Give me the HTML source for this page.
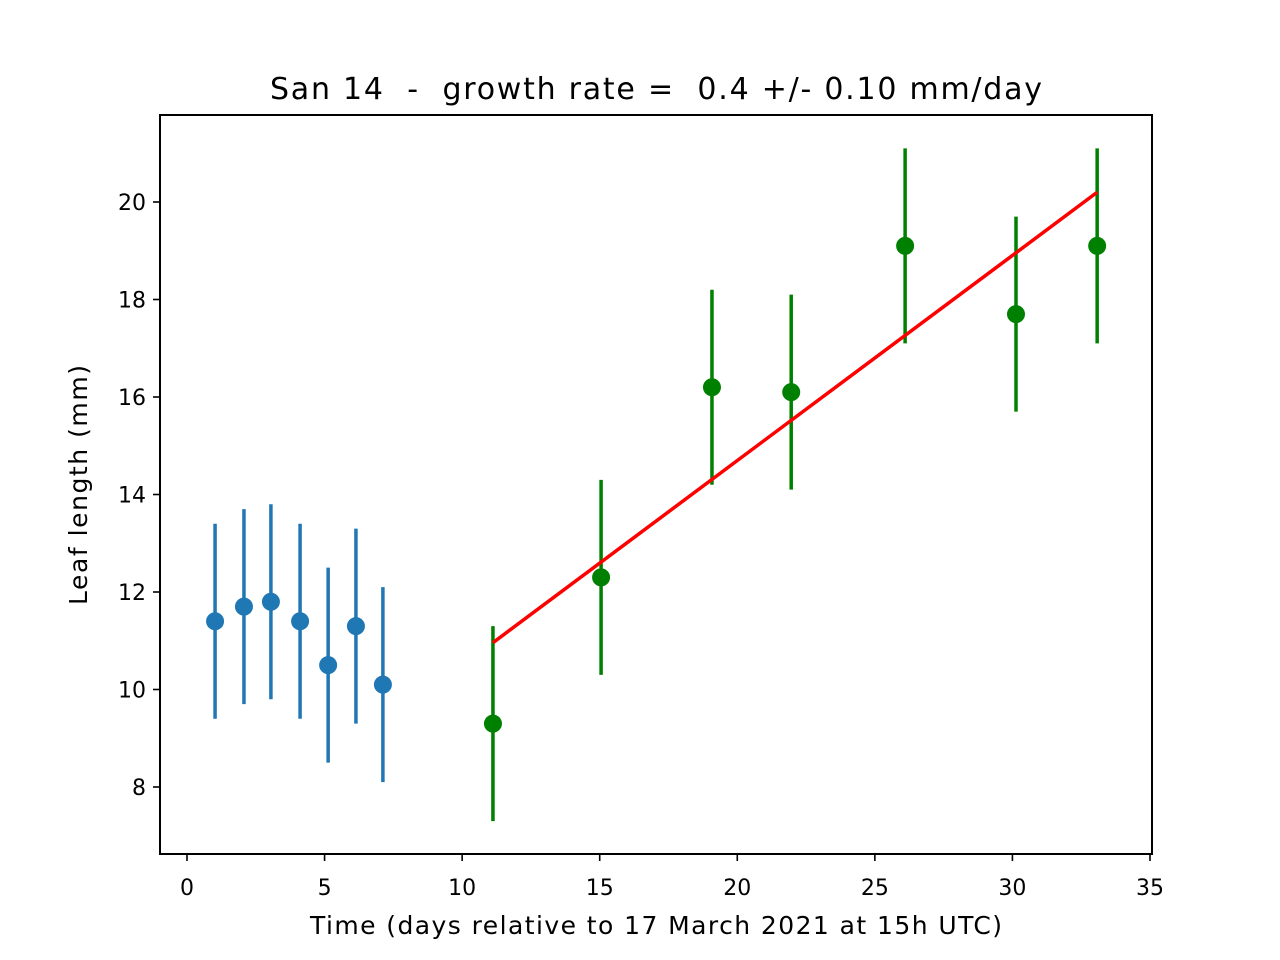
<!DOCTYPE html>
<html><head><meta charset="utf-8"><style>body{margin:0;background:#fff}svg{display:block;font-family:"DejaVu Sans","Liberation Sans",sans-serif}</style></head>
<body>
<svg id="chart" width="1280" height="960">
<rect x="0" y="0" width="1280" height="960" fill="#fff"/>
<text x="656" y="99" font-size="30" text-anchor="middle" style="white-space:pre" xml:space="preserve" textLength="772" lengthAdjust="spacing">San 14  -  growth rate =  0.4 +/- 0.10 mm/day</text>
<g id="plot"></g>
<rect x="160" y="115" width="992" height="739" fill="none" stroke="#000" stroke-width="2"/>
<text x="656" y="934" font-size="25" text-anchor="middle" textLength="692" lengthAdjust="spacing">Time (days relative to 17 March 2021 at 15h UTC)</text>
<text transform="translate(87,485) rotate(-90)" font-size="25" text-anchor="middle" textLength="240" lengthAdjust="spacing">Leaf length (mm)</text>
</svg>
<script>
const xTicks=[0,5,10,15,20,25,30,35];
const yTicks=[8,10,12,14,16,18,20];
const blueX=[1.02,2.07,3.05,4.11,5.13,6.14,7.12];
const blueY=[11.4,11.7,11.8,11.4,10.5,11.3,10.1];
const blueErr=[2,2,2,2,2,2,2];
const greenX=[11.12,15.05,19.08,21.96,26.1,30.13,33.08];
const greenY=[9.3,12.3,16.2,16.1,19.1,17.7,19.1];
const greenErr=[2,2,2,2,2,2,2];
const fitX=[11.12,33.08];
const fitY=[10.96,20.2];
const X=v=>187+v*27.514;
const Y=v=>787-(v-8)*48.75;
const NS="http://www.w3.org/2000/svg";
const g=document.getElementById('plot');
function mk(t,a){const e=document.createElementNS(NS,t);for(const k in a)e.setAttribute(k,a[k]);g.appendChild(e);return e;}
xTicks.forEach(v=>{
 const l=mk('line',{x1:X(v),x2:X(v),y1:854,y2:861,stroke:'#000','stroke-width':1.6});
 
 
 const t=mk('text',{x:X(v),y:895,'font-size':22,'text-anchor':'middle'});t.textContent=v;
 
 
});
yTicks.forEach(v=>{
 const l=mk('line',{x1:153,x2:160,y1:Y(v),y2:Y(v),stroke:'#000','stroke-width':1.6});
 
 
 const t=mk('text',{x:146,y:Y(v)+8,'font-size':22,'text-anchor':'end'});t.textContent=v;
 
 
});
function series(xs,ys,es,col,name){
 xs.forEach((x,i)=>{
  const l=mk('line',{x1:X(x),x2:X(x),y1:Y(ys[i]+es[i]),y2:Y(ys[i]-es[i]),stroke:col,'stroke-width':3.5});
  
  
  const c=mk('circle',{cx:X(x),cy:Y(ys[i]),r:9,fill:col});
  
  
 });
}
series(blueX,blueY,blueErr,'#1f77b4','pre-growth');
series(greenX,greenY,greenErr,'#008000','growth');
const f=mk('line',{x1:X(fitX[0]),y1:Y(fitY[0]),x2:X(fitX[1]),y2:Y(fitY[1]),stroke:'#ff0000','stroke-width':3.5});


</script>
</body></html>
